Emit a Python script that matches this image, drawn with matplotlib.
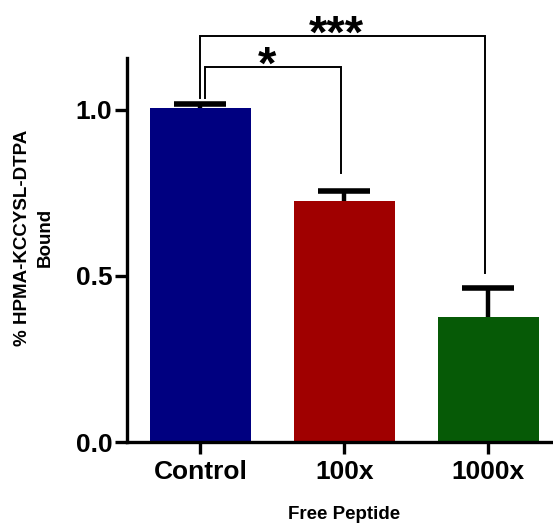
import matplotlib
matplotlib.use("Agg")
import matplotlib.pyplot as plt

plt.rcParams['font.family'] = ['Liberation Sans', 'DejaVu Sans']
plt.rcParams['font.weight'] = 'bold'

categories = ["Control", "100x", "1000x"]
means = [1.005, 0.726, 0.376]
errors = [0.012, 0.031, 0.089]
colors = ["#000080", "#a00000", "#065a06"]
yticks = [0.0, 0.5, 1.0]
ytick_labels = ["0.0", "0.5", "1.0"]
# significance brackets: (left, right, top, left leg bottom, right leg bottom, label)
brackets = [
    (0.03, 0.974, 1.13, 1.035, 0.809, "*"),
    (0.0, 1.976, 1.223, 1.035, 0.51, "***"),
]

fig = plt.figure(figsize=(5.53, 5.25), dpi=100)
ax = fig.add_axes([0.2297, 0.158, 0.7703, 0.731])

x = list(range(len(categories)))
ax.bar(x, means, width=0.7, color=colors, zorder=2)
eb = ax.errorbar(x, means, yerr=[[0] * len(errors), errors], fmt='none', ecolor='black',
                 elinewidth=3.2, capsize=19, capthick=4, zorder=3)
# hide lower caps (only upper error shown)
eb[1][0].set_visible(False)

for (l, r, top, lb, rb, lab) in brackets:
    ax.plot([l, l, r, r], [lb, top, top, rb], color='black', lw=1.4,
            clip_on=False, zorder=4, solid_joinstyle='miter')
    ax.text((l + r) / 2 - 0.04, top + 0.0, lab, ha='center', va='center',
            fontsize=34, fontweight='bold', clip_on=False)

ax.set_xlim(-0.51, 2.45)
ax.set_ylim(0, 1.155)
ax.set_xticks(x)
ax.set_xticklabels(categories, fontsize=19, fontweight='bold')
ax.set_yticks(yticks)
ax.set_yticklabels(ytick_labels, fontsize=19, fontweight='bold')

for s in ['top', 'right']:
    ax.spines[s].set_visible(False)
for s in ['left', 'bottom']:
    ax.spines[s].set_linewidth(2.4)
ax.tick_params(axis='both', direction='out', length=8.6, width=2.4, pad=2)
ax.tick_params(axis='x', pad=4)

ax.set_xlabel("Free Peptide", fontsize=13.5, fontweight='bold')
ax.xaxis.set_label_coords((344 - 127) / 426, (442 - 506) / 383.7)
ax.set_ylabel("% HPMA-KCCYSL-DTPA\nBound", fontsize=13.5, fontweight='bold',
              linespacing=1.5)
ax.yaxis.set_label_coords((54 - 127) / 426, 0.532)

fig.savefig("out.png", dpi=100)
